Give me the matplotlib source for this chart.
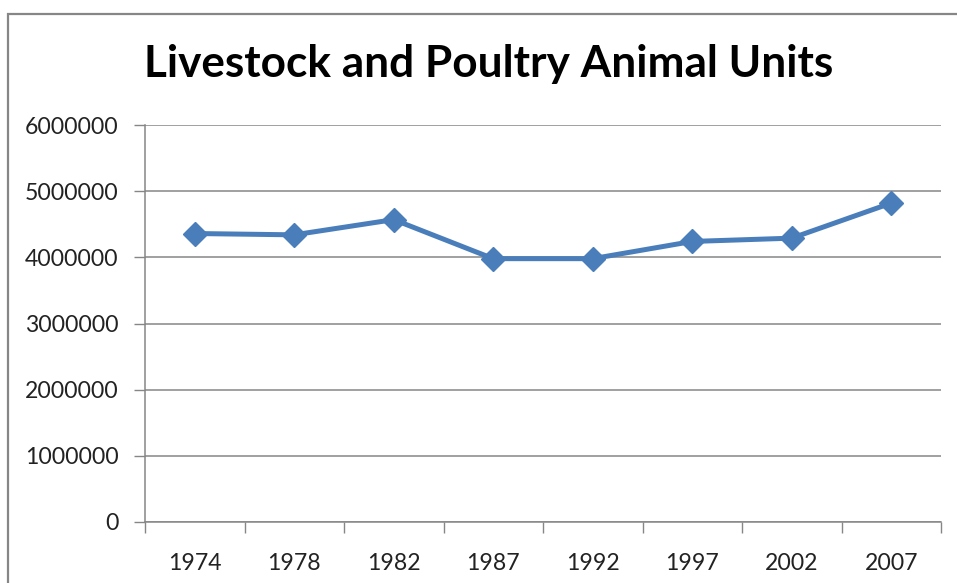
import matplotlib.pyplot as plt
from matplotlib.patches import Rectangle

years = ['1974', '1978', '1982', '1987', '1992', '1997', '2002', '2007']
animal_units = [4360000, 4340000, 4570000, 3980000, 3980000, 4240000, 4290000, 4820000]
y_ticks = [0, 1000000, 2000000, 3000000, 4000000, 5000000, 6000000]

W, H = 957, 583
fig = plt.figure(figsize=(W / 100, H / 100), dpi=100)
ax = fig.add_axes([145 / W, 61 / H, 796 / W, 397 / H])

gray = '#868686'
blue = '#4a7ebb'
font = 'Lato'

# chart frame
fig.patches.append(Rectangle((8 / W, -0.1), 1.2, 1 - 13.5 / H + 0.1,
                             transform=fig.transFigure, fill=False,
                             edgecolor=gray, linewidth=1.6))

x = range(len(years))
ax.plot(x, animal_units, color=blue, linewidth=3.6, marker='D',
        markersize=12, solid_joinstyle='round')

ax.set_xlim(-0.5, len(years) - 0.5)
ax.set_ylim(0, 6000000)
ax.set_yticks(y_ticks)
ax.set_yticklabels([str(v) for v in y_ticks], fontfamily=font, fontsize=16.6,
                   color='#222222')
ax.set_xticks(list(x))
ax.set_xticklabels(years, fontfamily=font, fontsize=16.6, color='#222222')
ax.set_xticks([i - 0.5 for i in range(len(years) + 1)], minor=True)

ax.tick_params(axis='x', which='major', length=0, pad=22)
ax.tick_params(axis='x', which='minor', length=8, color=gray, width=1)
ax.tick_params(axis='y', length=8, color=gray, width=1, pad=11)

ax.yaxis.grid(True, color=gray, linewidth=1.1)
ax.set_axisbelow(True)
for side in ['top', 'right']:
    ax.spines[side].set_visible(False)
for side in ['left', 'bottom']:
    ax.spines[side].set_color(gray)
    ax.spines[side].set_linewidth(1.1)

fig.text(489 / W, 1 - 64 / H, 'Livestock and Poultry Animal Units',
         fontfamily=font, fontweight='bold', fontsize=31.8,
         ha='center', va='center', color='black')

fig.savefig('out.png', dpi=100)
